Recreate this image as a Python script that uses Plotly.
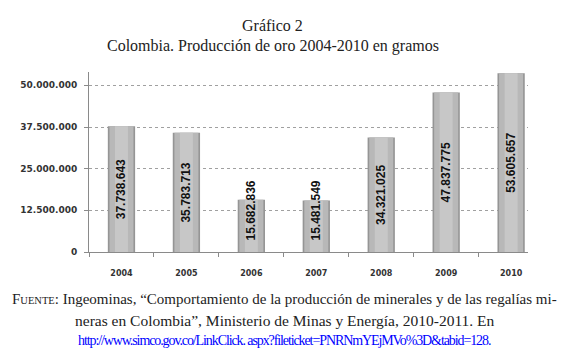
import plotly.graph_objects as go

years = ["2004", "2005", "2006", "2007", "2008", "2009", "2010"]
gramos = [37738643, 35783713, 15682836, 15481549, 34321025, 47837775, 53605657]
labels = ["37.738.643", "35.783.713", "15.682.836", "15.481.549", "34.321.025", "47.837.775", "53.605.657"]
y_ticks = [0, 12500000, 25000000, 37500000, 50000000]
y_tick_text = ["0", "12.500.000", "25.000.000", "37.500.000", "50.000.000"]

fig = go.Figure()
# layered bars to imitate the shaded cylinder look
for w, col in [(0.42, "#959595"), (0.37, "#b8b8b8"), (0.2, "#c7c7c7")]:
    fig.add_trace(go.Bar(x=years, y=gramos, width=w, marker=dict(color=col, line=dict(width=0)),
                         hoverinfo="skip", showlegend=False))

# transparent carrier bars for the rotated value labels (label sits at the middle of the carrier)
fig.add_trace(go.Bar(x=years, y=[max(v, 25e6) for v in gramos], width=0.4, text=labels,
                     textposition="inside", insidetextanchor="middle", textangle=-90,
                     constraintext="none", cliponaxis=False,
                     textfont=dict(family="Liberation Sans", size=12, color="#111111", weight="bold"),
                     marker=dict(color="rgba(0,0,0,0)", line=dict(width=0)),
                     hoverinfo="skip", showlegend=False))

serif = "Liberation Serif"
annotations = [
    dict(text="Gráfico 2", x=0.419, y=1.256, xref="paper", yref="paper", showarrow=False,
         font=dict(family=serif, size=16, color="#222222"), xanchor="center", yanchor="middle"),
    dict(text="Colombia. Producción de oro 2004-2010 en gramos", x=0.419, y=1.144, xref="paper", yref="paper",
         showarrow=False, font=dict(family=serif, size=16, color="#222222"), xanchor="center", yanchor="middle"),
    dict(text="F<span style='font-size:10.5px'>UENTE</span>: Ingeominas, “Comportamiento de la producción de minerales y de las regalías mi-",
         x=0.446, y=-0.261, xref="paper", yref="paper", showarrow=False,
         font=dict(family=serif, size=15, color="#222222"), xanchor="center", yanchor="middle"),
    dict(text="neras en Colombia”, Ministerio de Minas y Energía, 2010-2011. En",
         x=0.446, y=-0.378, xref="paper", yref="paper", showarrow=False,
         font=dict(family=serif, size=15.5, color="#222222"), xanchor="center", yanchor="middle"),
    dict(text="<span style='letter-spacing:-1.1px'>http://www.simco.gov.co/LinkClick. aspx?fileticket=PNRNmYEjMVo%3D&amp;tabid=128.</span>",
         x=0.446, y=-0.494, xref="paper", yref="paper", showarrow=False,
         font=dict(family=serif, size=14, color="#0000ff"), xanchor="center", yanchor="middle"),
]

fig.update_layout(
    width=558, height=348,
    margin=dict(l=76, r=38, t=64, b=104),
    paper_bgcolor="white", plot_bgcolor="white",
    barmode="overlay",
    annotations=annotations,
    xaxis=dict(type="category", range=[-0.5, 6.26], showgrid=False, showline=True, linecolor="#8a8a8a",
               ticks="outside", tickson="boundaries", ticklen=4, tickcolor="#8a8a8a",
               tickfont=dict(family="DejaVu Sans", size=8, color="#333333", weight="bold"),
               ticklabelstandoff=13),
    yaxis=dict(range=[0, 54e6], tickvals=y_ticks, ticktext=y_tick_text, showgrid=True,
               gridcolor="#a0a0a0", griddash="dot", gridwidth=1, showline=True, linecolor="#8a8a8a",
               ticks="outside", ticklen=4, tickcolor="#8a8a8a", zeroline=False,
               tickfont=dict(family="DejaVu Sans", size=9, color="#333333", weight="bold"),
               ticklabelstandoff=5),
)

fig.write_html("out.html")
